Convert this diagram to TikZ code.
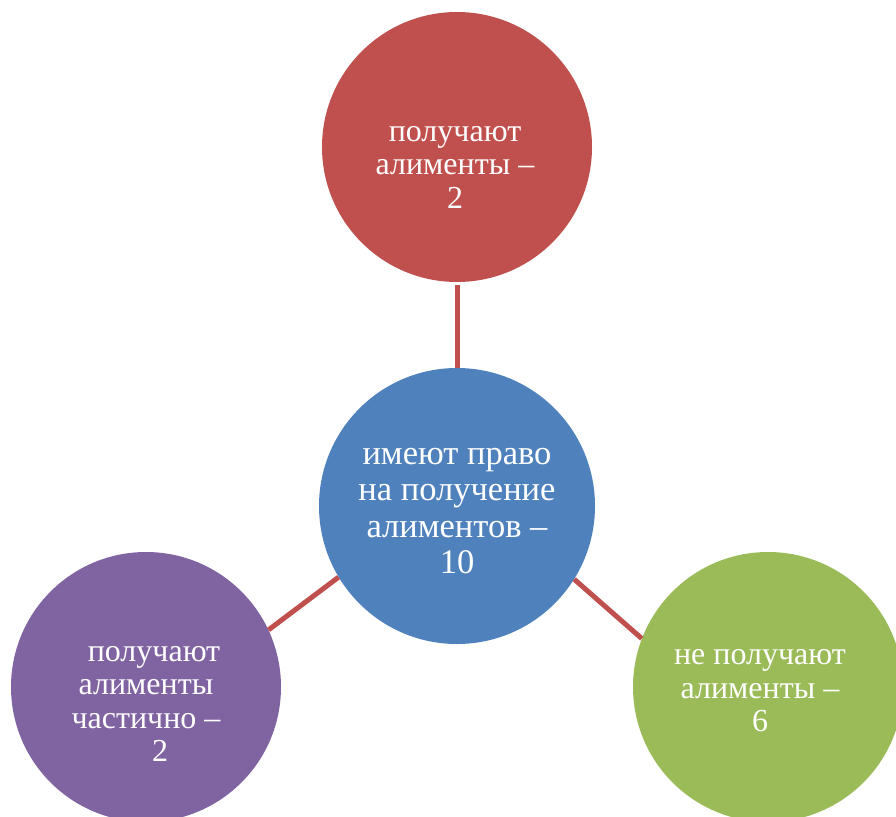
\documentclass[tikz,border=0pt]{standalone}
\usepackage{fontspec}
\setmainfont{Liberation Serif}
\usepackage{tikz}

\definecolor{bubblered}{HTML}{C0504D}
\definecolor{bubbleblue}{HTML}{4F81BD}
\definecolor{bubblepurple}{HTML}{8064A2}
\definecolor{bubblegreen}{HTML}{9BBB59}

\begin{document}
\begin{tikzpicture}[x=1pt, y=-1pt,
    bubble/.style={circle, minimum size=270pt, inner sep=0pt},
    bubbletext/.style={text=white, align=center, inner sep=0pt, font=\fontsize{32}{33.5}\selectfont},
    link/.style={draw=bubblered, line width=5pt}]

  \clip (0,0) rectangle (896,816);

  % Circles
  \node[bubble, fill=bubblered] (recv) at (457,147) {};
  \node[bubble, fill=bubbleblue, minimum size=276pt] (total) at (457,506) {};
  \node[bubble, fill=bubblepurple] (part) at (146,687) {};
  \node[bubble, fill=bubblegreen] (none) at (768,687) {};

  % Texts
  \node[bubbletext] (recvtext) at (455,167) {получают\\алименты –\\2};
  \node[bubbletext, font=\fontsize{34.5}{36.3}\selectfont] (totaltext) at (457,511) {имеют право\\на получение\\алиментов –\\10};
  \node[bubbletext] (parttext) at (146,704) {\hspace*{16pt}получают\\алименты\\частично –\\\hspace*{28pt}2};
  \node[bubbletext] (nonetext) at (760,691) {не получают\\алименты –\\6};

  % Connectors
  \draw[link, shorten <=3pt] (recv) -- (total);
  \draw[link] (total.211) -- (part.25);
  \draw[link] (total.328) -- (none.159);

\end{tikzpicture}
\end{document}
